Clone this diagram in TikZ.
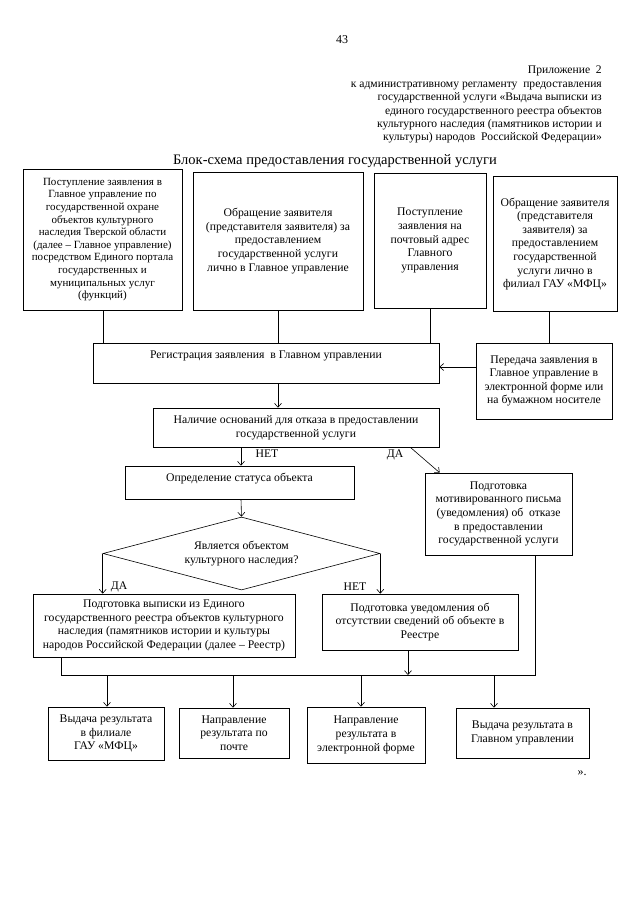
\documentclass[tikz,border=0pt]{standalone}
\usepackage{fontspec}
\setmainfont{Liberation Serif}
\usetikzlibrary{shapes.geometric,arrows.meta}
\begin{document}
\begin{tikzpicture}[x=1pt,y=-1pt,
  box/.style={draw, line width=0.6pt, align=center, inner sep=2pt, font=\fontsize{11.7}{13.6}\selectfont},
  small/.style={font=\fontsize{11}{12.6}\selectfont},
  lbl/.style={inner sep=1pt, font=\fontsize{11.7}{13.6}\selectfont},
  hdr/.style={inner sep=0pt, align=right, font=\fontsize{11.6}{13.4}\selectfont},
  arr/.style={-{Straight Barb[length=4pt,width=7pt]}, line width=0.6pt},
  ln/.style={line width=0.6pt}]
\useasboundingbox (0,0) rectangle (640,899);

% header
\node[inner sep=0pt, font=\fontsize{12}{14}\selectfont] (pg) at (342,40) {43};
\node[hdr, anchor=north east] (app) at (602,66) {Приложение~ 2\\
к административному регламенту~ предоставления\\
государственной услуги «Выдача выписки из\\
единого государственного реестра объектов\\
культурного наследия (памятников истории и\\
культуры) народов~ Российской Федерации»};
\node[inner sep=0pt, font=\fontsize{14.5}{17}\selectfont] (title) at (335,161) {Блок-схема предоставления государственной услуги};

% top row
\node[box, small, minimum width=159pt, minimum height=141pt] (b1) at (102.5,239.5) {Поступление заявления в\\ Главное управление по\\ государственной охране\\ объектов культурного\\ наследия Тверской области\\ (далее – Главное управление)\\ посредством Единого портала\\ государственных и\\ муниципальных услуг\\ (функций)};
\node[box, minimum width=170pt, minimum height=138pt] (b2) at (278,241) {Обращение заявителя\\ (представителя заявителя) за\\ предоставлением\\ государственной услуги\\ лично в Главное управление};
\node[box, minimum width=112pt, minimum height=135pt] (b3) at (430,240.5) {Поступление\\ заявления на\\ почтовый адрес\\ Главного\\ управления};
\node[box, minimum width=124pt, minimum height=135pt] (b4) at (555,244) {Обращение заявителя\\ (представителя\\ заявителя) за\\ предоставлением\\ государственной\\ услуги лично в\\ филиал ГАУ «МФЦ»};

% registration
\node[box, minimum width=346pt, minimum height=40pt, inner ysep=3pt, text height=12pt, text depth=22pt] (reg) at (266,363) {Регистрация заявления~ в Главном управлении};
\node[box, minimum width=136pt, minimum height=76pt] (tr) at (544,381) {Передача заявления в\\ Главное управление в\\ электронной форме или\\ на бумажном носителе};

\node[box, minimum width=286pt, minimum height=39pt] (nal) at (296,427.5) {Наличие оснований для отказа в предоставлении\\ государственной услуги};
\node[box, minimum width=229pt, minimum height=33pt, inner ysep=3pt, text height=12pt, text depth=15pt] (opr) at (239.5,482.5) {Определение статуса объекта};
\node[box, minimum width=147pt, minimum height=82pt] (mot) at (498.5,514) {Подготовка\\ мотивированного письма\\ (уведомления) об~ отказе\\ в предоставлении\\ государственной услуги};

\node[box, diamond, aspect=3.8, inner sep=0pt, minimum width=277pt, minimum height=73pt] (dia) at (241.5,553.5) {Является объектом\\ культурного наследия?};

\node[box, minimum width=262pt, minimum height=63pt] (vyp) at (164,625.5) {Подготовка выписки из Единого\\ государственного реестра объектов культурного\\ наследия (памятников истории и культуры\\ народов Российской Федерации (далее – Реестр)};
\node[box, minimum width=196pt, minimum height=56pt] (uv) at (420,622) {Подготовка уведомления об\\ отсутствии сведений об объекте в\\ Реестре};

% results
\node[box, minimum width=116pt, minimum height=53pt] (r1) at (106,733.5) {Выдача результата\\ в филиале\\ ГАУ «МФЦ»};
\node[box, minimum width=110pt, minimum height=50pt] (r2) at (234,733) {Направление\\ результата по\\ почте};
\node[box, minimum width=118pt, minimum height=56pt] (r3) at (366,735) {Направление\\ результата в\\ электронной форме};
\node[box, minimum width=133pt, minimum height=50pt] (r4) at (522.5,733) {Выдача результата в\\ Главном управлении};

\node[inner sep=0pt, font=\fontsize{12}{14}\selectfont] (end) at (582,773) {».};

% labels
\node[lbl] (net1) at (267,454) {НЕТ};
\node[lbl] (da1) at (395,455) {ДА};
\node[lbl] (da2) at (119,587) {ДА};
\node[lbl] (net2) at (355,587) {НЕТ};

% connectors
\draw[ln] ([xshift=0.5pt]b1.south) -- ([xshift=0.5pt]b1.south |- reg.north);
\draw[ln] (b2.south) -- (b2.south |- reg.north);
\draw[ln] (b3.south) -- (b3.south |- reg.north);
\draw[ln] ([xshift=-6pt]b4.south) -- ([xshift=-6pt]b4.south |- tr.north);
\draw[arr] (tr.west |- 0,367) -- (reg.east |- 0,367);
\draw[arr] (b2.south |- reg.south) -- (b2.south |- nal.north);
\draw[arr] ([xshift=1.5pt]opr.north |- nal.south) -- ([xshift=1.5pt]opr.north);
\draw[arr] ([xshift=-29pt]nal.south east) -- ([xshift=15pt]mot.north west);
\draw[arr] ([xshift=1.5pt]opr.south) -- (dia.north);
\draw[arr] (dia.west) -- (dia.west |- vyp.north);
\draw[arr] (dia.east) -- (dia.east |- uv.north);

\coordinate (busL) at (61,675);
\coordinate (busR) at (535,675);
\draw[ln] (vyp.south -| busL) -- (busL) -- (busR) -- (busR |- mot.south);
\draw[arr] ([xshift=-12pt]uv.south) -- ([xshift=-12pt]uv.south |- busL);
\draw[arr] ([xshift=1pt]r1.north |- busL) -- ([xshift=1pt]r1.north);
\draw[arr] ([xshift=-1pt]r2.north |- busL) -- ([xshift=-1pt]r2.north);
\draw[arr] ([xshift=-5pt]r3.north |- busL) -- ([xshift=-5pt]r3.north);
\draw[arr] ([xshift=-28.5pt]r4.north |- busL) -- ([xshift=-28.5pt]r4.north);
\end{tikzpicture}
\end{document}
